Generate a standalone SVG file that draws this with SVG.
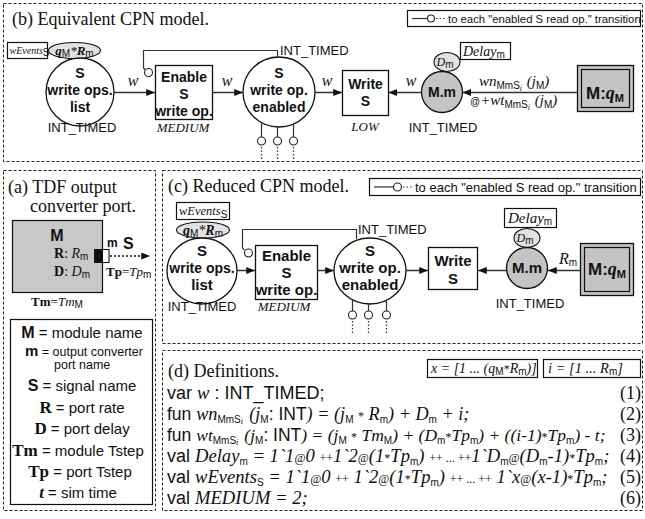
<svg xmlns="http://www.w3.org/2000/svg" width="645" height="519" viewBox="0 0 645 519">
<style>
.bd{fill:none;stroke:#222;stroke-width:1;stroke-dasharray:3 2}
.bx{fill:#fff;stroke:#111;stroke-width:1.2}
.nd{fill:#fff;stroke:#111;stroke-width:1.3}
.gr{fill:#c4c4c4;stroke:#111;stroke-width:1.3}
.lg{fill:#e2e2e2;stroke:#111;stroke-width:1.1}
.arc{fill:none;stroke:#333;stroke-width:1.5}
.thin{fill:none;stroke:#333;stroke-width:1.2}
.dot{fill:none;stroke:#333;stroke-width:1.2;stroke-dasharray:1.5 2}
.ic{fill:#fff;stroke:#222;stroke-width:1.1}
.ti{font-family:"Liberation Serif",serif;font-size:18px;fill:#111}
.sb{font-family:"Liberation Sans",Arial,sans-serif;font-weight:bold;font-style:normal;fill:#111}
.sn{font-family:"Liberation Sans",Arial,sans-serif;font-style:normal;fill:#111}
.it{font-family:"Liberation Serif",serif;font-style:italic;fill:#111}
.sr{font-family:"Liberation Serif",serif;font-style:normal;fill:#111}
.nl{font-family:"Liberation Sans",Arial,sans-serif;font-weight:bold;font-size:14px;text-anchor:middle;fill:#111}
.nl2{font-family:"Liberation Sans",Arial,sans-serif;font-weight:bold;font-size:15px;text-anchor:middle;fill:#111}
.ty{font-family:"Liberation Sans",Arial,sans-serif;font-size:13px;fill:#111}
.pr{font-family:"Liberation Serif",serif;font-style:italic;font-size:13px;text-anchor:middle;fill:#111}
.sub{font-family:"Liberation Sans",Arial,sans-serif;font-style:normal;font-weight:normal;font-size:10px}
.sm{font-family:"Liberation Serif",serif;font-style:normal;font-size:12px}
</style>
<defs>
<marker id="ah" viewBox="0 0 10 8" refX="10" refY="4" markerWidth="9" markerHeight="7" markerUnits="userSpaceOnUse" orient="auto"><path d="M0,0 L10,4 L0,8 z" fill="#111"/></marker>
</defs>

<!-- panel borders -->
<g id="borders">
<rect class="bd" x="3.5" y="3.5" width="639" height="158"/>
<rect class="bd" x="3.5" y="170.5" width="152" height="340"/>
<rect class="bd" x="162.5" y="170.5" width="480" height="173"/>
<rect class="bd" x="162.5" y="350.5" width="480" height="160"/>
</g>

<!-- titles -->
<text class="ti" x="12" y="25">(b) Equivalent CPN model.</text>
<text class="ti" x="8" y="193">(a) TDF output</text>
<text class="ti" x="30" y="212">converter port.</text>
<text class="ti" x="168" y="192">(c) Reduced CPN model.</text>
<text class="ti" x="168" y="377">(d) Definitions.</text>

<!-- ===== (b) Equivalent CPN model ===== -->
<g id="b-legend">
<rect class="bx" x="407.5" y="10.5" width="233" height="16"/>
<line class="thin" x1="412" y1="18.5" x2="427" y2="18.5"/>
<circle class="ic" cx="431" cy="18.5" r="3.5"/>
<line class="dot" x1="436" y1="18.5" x2="446" y2="18.5"/>
<text class="sn" x="448" y="22.5" font-size="11.3">to each "enabled S read op." transition</text>
</g>

<g id="b-list">
<rect class="bx" x="7.5" y="42.5" width="40" height="16"/>
<text class="it" x="9.5" y="54" font-size="10">wEvents<tspan class="sub" font-size="7.5" dy="2">S</tspan></text>
<ellipse class="lg" cx="74.5" cy="50.5" rx="26" ry="8"/>
<text class="it" x="74.5" y="55" font-size="13" font-weight="bold" text-anchor="middle">q<tspan class="sub" font-size="8" dy="2">M</tspan><tspan dy="-2" font-weight="normal">*</tspan>R<tspan class="sub" font-size="8" dy="2">m</tspan></text>
<ellipse class="nd" cx="80" cy="92" rx="34" ry="34"/>
<text class="nl" x="80" y="78">S</text>
<text class="nl" x="80" y="95">write ops.</text>
<text class="nl" x="80" y="112">list</text>
<text class="ty" x="82" y="132" text-anchor="middle">INT_TIMED</text>
</g>

<g id="b-enable">
<rect class="nd" x="155.5" y="65.5" width="57" height="54"/>
<text class="nl" x="184" y="82">Enable</text>
<text class="nl" x="184" y="99">S</text>
<text class="nl" x="184" y="116">write op.</text>
<text class="pr" x="183" y="132">MEDIUM</text>
</g>

<g id="b-enabled">
<ellipse class="nd" cx="279" cy="92" rx="36" ry="35"/>
<text class="nl" x="279" y="78">S</text>
<text class="nl" x="279" y="95">write op.</text>
<text class="nl" x="279" y="112">enabled</text>
<text class="ty" x="280" y="55">INT_TIMED</text>
</g>

<g id="b-write">
<rect class="nd" x="342.5" y="70.5" width="46" height="45"/>
<text class="nl" x="365.5" y="89">Write</text>
<text class="nl" x="365.5" y="106">S</text>
<text class="pr" x="365" y="131">LOW</text>
</g>

<g id="b-mm">
<rect class="bx" x="460.5" y="42.5" width="50" height="17"/>
<text class="it" x="463" y="56" font-size="14">Delay<tspan class="sub" font-size="9" dy="2">m</tspan></text>
<ellipse class="lg" cx="447" cy="62" rx="13" ry="9.5"/>
<text class="it" x="445" y="66" font-size="12" text-anchor="middle">D<tspan class="sub" font-size="7.5" dy="2">m</tspan></text>
<circle class="gr" cx="442" cy="92" r="20.5"/>
<text class="nl" x="442" y="97">M.m</text>
<text class="ty" x="443" y="132" text-anchor="middle">INT_TIMED</text>
</g>

<g id="b-mq">
<rect class="gr" x="577.5" y="65.5" width="56" height="46"/>
<rect fill="none" stroke="#111" stroke-width="1.2" x="581.5" y="69.5" width="48" height="38"/>
<text x="605" y="99" text-anchor="middle"><tspan class="sb" font-size="17">M:</tspan><tspan class="it" font-weight="bold" font-size="18">q</tspan><tspan class="sb" font-size="11" dy="3">M</tspan></text>
</g>

<g id="b-connectors">
<line class="arc" x1="114" y1="92.5" x2="155" y2="92.5" marker-end="url(#ah)"/>
<line class="arc" x1="212" y1="92.5" x2="243" y2="92.5" marker-end="url(#ah)"/>
<line class="arc" x1="315" y1="92.5" x2="342" y2="92.5" marker-end="url(#ah)"/>
<line class="arc" x1="421" y1="92.5" x2="388.5" y2="92.5" marker-end="url(#ah)"/>
<line class="arc" x1="577" y1="92.5" x2="462.5" y2="92.5" marker-end="url(#ah)"/>
<path class="thin" d="M277.5,57 V50.5 H143.5 V68 L145.5,70"/>
<circle class="ic" cx="148.5" cy="72.5" r="4"/>
<path class="thin" d="M261.5,122 V137 M277.5,127 V137 M293.5,124 V137"/>
<circle class="ic" cx="261.5" cy="141" r="4"/>
<circle class="ic" cx="277.5" cy="141" r="4"/>
<circle class="ic" cx="293.5" cy="141" r="4"/>
<path class="dot" d="M261.5,147 V160 M277.5,147 V160 M293.5,147 V160"/>
<text class="it" x="133" y="86" font-size="16" text-anchor="middle">w</text>
<text class="it" x="227" y="86" font-size="16" text-anchor="middle">w</text>
<text class="it" x="327" y="86" font-size="16" text-anchor="middle">w</text>
<text class="it" x="411" y="86" font-size="16" text-anchor="middle">w</text>
<text class="it" x="479" y="86" font-size="15">wn<tspan class="sub" font-size="10" dy="3">MmS</tspan><tspan font-size="8" dy="2">i</tspan><tspan dy="-5" dx="1"> (j</tspan><tspan class="sub" font-size="10" dy="3">M</tspan><tspan dy="-3">)</tspan></text>
<text class="it" x="470" y="105" font-size="15"><tspan class="sn" font-size="10">@</tspan>+wt<tspan class="sub" font-size="10" dy="3">MmS</tspan><tspan font-size="8" dy="2">i</tspan><tspan dy="-5" dx="1"> (j</tspan><tspan class="sub" font-size="10" dy="3">M</tspan><tspan dy="-3">)</tspan></text>
</g>

<!-- ===== (a) TDF output converter port ===== -->
<g id="a-module">
<rect fill="#c8c8c8" stroke="#111" stroke-width="1.2" x="12.5" y="220.5" width="90" height="72"/>
<text class="sb" x="57" y="241" font-size="16" text-anchor="middle">M</text>
<text class="sr" x="54" y="258" font-size="14"><tspan font-weight="bold">R</tspan>: <tspan class="it">R</tspan><tspan class="sub" font-size="9" dy="2">m</tspan></text>
<text class="sr" x="54" y="276" font-size="14"><tspan font-weight="bold">D</tspan>: <tspan class="it">D</tspan><tspan class="sub" font-size="9" dy="2">m</tspan></text>
<text class="sr" x="57" y="306" font-size="13" text-anchor="middle"><tspan font-weight="bold">Tm</tspan>=<tspan class="it">Tm</tspan><tspan class="sub" font-size="8.5" dy="2">M</tspan></text>
</g>
<g id="a-port">
<rect fill="#111" x="94" y="249" width="8.5" height="14"/>
<rect fill="#fff" stroke="#111" stroke-width="1.1" x="102.5" y="249.5" width="6.5" height="13"/>
<text class="sb" x="107" y="247" font-size="12">m</text>
<text class="sb" x="123" y="249" font-size="16">S</text>
<line x1="110" y1="256" x2="150" y2="256" stroke="#111" stroke-width="1.3" stroke-dasharray="2 2" marker-end="url(#ah)"/>
<text class="sr" x="106" y="276" font-size="13"><tspan font-weight="bold">Tp</tspan>=<tspan class="it">Tp</tspan><tspan class="sub" font-size="8.5" dy="2">m</tspan></text>
</g>
<g id="a-legend">
<rect class="bx" x="10.5" y="319.5" width="142" height="185"/>
<text class="sn" x="82" y="338" font-size="15" text-anchor="middle"><tspan class="sb" font-size="16">M</tspan> = module name</text>
<text class="sn" x="25" y="356" font-size="12.5"><tspan class="sb" font-size="15">m</tspan> = output converter</text>
<text class="sn" x="54" y="369" font-size="12.5">port name</text>
<text class="sn" x="82" y="391" font-size="15" text-anchor="middle"><tspan class="sb" font-size="16">S</tspan> = signal name</text>
<text class="sn" x="82" y="413" font-size="15" text-anchor="middle"><tspan class="sr" font-weight="bold" font-size="17">R</tspan> = port rate</text>
<text class="sn" x="82" y="434" font-size="15" text-anchor="middle"><tspan class="sr" font-weight="bold" font-size="17">D</tspan> = port delay</text>
<text class="sn" x="78" y="456" font-size="15" text-anchor="middle"><tspan class="sr" font-weight="bold" font-size="17">Tm</tspan> = module Tstep</text>
<text class="sn" x="80" y="477" font-size="15" text-anchor="middle"><tspan class="sr" font-weight="bold" font-size="17">Tp</tspan> = port Tstep</text>
<text class="sn" x="78" y="498" font-size="15" text-anchor="middle"><tspan class="it" font-weight="bold" font-size="17">t</tspan> = sim time</text>
</g>

<!-- ===== (c) Reduced CPN model ===== -->
<g id="c-legend">
<rect class="bx" x="369.5" y="178.5" width="271" height="17"/>
<line class="thin" x1="374" y1="187" x2="393" y2="187"/>
<circle class="ic" cx="397.5" cy="187" r="4"/>
<line class="dot" x1="403" y1="187" x2="413" y2="187"/>
<text class="sn" x="415" y="192" font-size="13">to each "enabled S read op." transition</text>
</g>

<g id="c-list">
<rect class="bx" x="176.5" y="202.5" width="53" height="17"/>
<text class="it" x="179" y="215" font-size="12.5">wEvents<tspan class="sub" font-size="9" dy="2.5">S</tspan></text>
<ellipse class="lg" cx="203" cy="230" rx="26.5" ry="8"/>
<text class="it" x="203" y="235" font-size="14" font-weight="bold" text-anchor="middle">q<tspan class="sub" font-size="9" dy="2">M</tspan><tspan dy="-2" font-weight="normal">*</tspan>R<tspan class="sub" font-size="9" dy="2">m</tspan></text>
<ellipse class="nd" cx="202" cy="271" rx="35" ry="33"/>
<text class="nl2" x="202" y="256">S</text>
<text class="nl" x="202" y="273">write ops.</text>
<text class="nl2" x="202" y="290">list</text>
<text class="ty" x="202" y="311" text-anchor="middle" font-size="14">INT_TIMED</text>
</g>

<g id="c-enable">
<rect class="nd" x="255.5" y="245.5" width="62" height="54"/>
<text class="nl2" x="286.5" y="261">Enable</text>
<text class="nl2" x="286.5" y="278">S</text>
<text class="nl2" x="286.5" y="295">write op.</text>
<text class="pr" x="284" y="311" font-size="14">MEDIUM</text>
</g>

<g id="c-enabled">
<ellipse class="nd" cx="370" cy="271" rx="36" ry="33"/>
<text class="nl2" x="370" y="256">S</text>
<text class="nl2" x="370" y="273">write op.</text>
<text class="nl2" x="370" y="290">enabled</text>
<text class="ty" x="358" y="234" font-size="14">INT_TIMED</text>
</g>

<g id="c-write">
<rect class="nd" x="428.5" y="247.5" width="49" height="42"/>
<text class="nl2" x="453" y="266">Write</text>
<text class="nl2" x="453" y="284">S</text>
</g>

<g id="c-mm">
<rect class="bx" x="504.5" y="208.5" width="52" height="19"/>
<text class="it" x="508" y="223" font-size="15">Delay<tspan class="sub" font-size="9.5" dy="2">m</tspan></text>
<ellipse class="lg" cx="527" cy="238" rx="13" ry="9.5"/>
<text class="it" x="525" y="242" font-size="12" text-anchor="middle">D<tspan class="sub" font-size="7.5" dy="2">m</tspan></text>
<circle class="gr" cx="527" cy="268" r="20.5"/>
<text class="nl2" x="527" y="273">M.m</text>
<text class="ty" x="530" y="308" text-anchor="middle" font-size="14">INT_TIMED</text>
</g>

<g id="c-mq">
<rect class="gr" x="580.5" y="243.5" width="53" height="52"/>
<rect fill="none" stroke="#111" stroke-width="1.2" x="584.5" y="247.5" width="45" height="44"/>
<text x="607" y="275" text-anchor="middle"><tspan class="sb" font-size="17">M:</tspan><tspan class="it" font-weight="bold" font-size="18">q</tspan><tspan class="sb" font-size="11" dy="3">M</tspan></text>
</g>

<g id="c-connectors">
<line class="arc" x1="237" y1="270.5" x2="255" y2="270.5" marker-end="url(#ah)"/>
<line class="arc" x1="317" y1="270.5" x2="334" y2="270.5" marker-end="url(#ah)"/>
<line class="arc" x1="406" y1="270.5" x2="428" y2="270.5" marker-end="url(#ah)"/>
<line class="arc" x1="506" y1="270.5" x2="478" y2="270.5" marker-end="url(#ah)"/>
<line class="arc" x1="580" y1="270.5" x2="548" y2="270.5" marker-end="url(#ah)"/>
<path class="thin" d="M356.5,239 V229.5 H242.5 V248 L244.5,250"/>
<circle class="ic" cx="248.5" cy="253" r="4"/>
<path class="thin" d="M352.5,299 V311 M368.5,304 V311 M386.5,301 V311"/>
<circle class="ic" cx="352.5" cy="315" r="4"/>
<circle class="ic" cx="368.5" cy="315" r="4"/>
<circle class="ic" cx="386.5" cy="315" r="4"/>
<path class="dot" d="M352.5,321 V335 M368.5,321 V335 M386.5,321 V335"/>
<text class="it" x="559" y="264" font-size="16">R<tspan class="sub" font-size="10" dy="2">m</tspan></text>
</g>

<!-- ===== (d) Definitions ===== -->
<g id="d-defs">
<rect class="bx" x="427.5" y="359.5" width="110" height="18"/>
<text class="it" x="431" y="373" font-size="14">x = [1 ... (q<tspan class="sub" font-size="9.5" dy="2">M</tspan><tspan class="sm" font-size="11" dy="-2">*</tspan>R<tspan class="sub" font-size="9.5" dy="2">m</tspan><tspan dy="-2">)]</tspan></text>
<rect class="bx" x="543.5" y="359.5" width="97" height="18"/>
<text class="it" x="548" y="373" font-size="14.5">i = [1 ... R<tspan class="sub" font-size="10" dy="2">m</tspan><tspan dy="-2">]</tspan></text>

<text x="167" y="399" class="it" font-size="18.6"><tspan class="sn" font-size="18">var </tspan>w<tspan class="sn" font-size="18"> : INT_TIMED;</tspan></text>
<text x="167" y="420" class="it" font-size="18.2"><tspan class="sn" font-size="17.5">fun </tspan>wn<tspan class="sub" font-size="11" dy="3">MmS</tspan><tspan font-size="8.5" dy="1">i</tspan><tspan dy="-4" dx="1.5"> (j</tspan><tspan class="sub" font-size="11" dy="3">M</tspan><tspan class="sn" font-size="17.5" dy="-3">: INT</tspan>) = (j<tspan class="sub" font-size="11" dy="3">M</tspan><tspan dy="-3"> </tspan><tspan class="sm">*</tspan> R<tspan class="sub" font-size="11" dy="3">m</tspan><tspan dy="-3">) + D</tspan><tspan class="sub" font-size="11" dy="3">m</tspan><tspan dy="-3"> + i;</tspan></text>
<text x="167" y="441" class="it" font-size="17.5"><tspan class="sn" font-size="17.5">fun </tspan>wt<tspan class="sub" font-size="11" dy="3">MmS</tspan><tspan font-size="8.5" dy="1">i</tspan><tspan dy="-4" dx="1.5"> (j</tspan><tspan class="sub" font-size="11" dy="3">M</tspan><tspan class="sn" font-size="17.5" dy="-3">: INT</tspan>) = (j<tspan class="sub" font-size="11" dy="3">M</tspan><tspan dy="-3"> </tspan><tspan class="sm">*</tspan> Tm<tspan class="sub" font-size="11" dy="3">M</tspan><tspan dy="-3">) + (D</tspan><tspan class="sub" font-size="11" dy="3">m</tspan><tspan class="sm" dy="-3">*</tspan>Tp<tspan class="sub" font-size="11" dy="3">m</tspan><tspan dy="-3">) + ((i-1)</tspan><tspan class="sm">*</tspan>Tp<tspan class="sub" font-size="11" dy="3">m</tspan><tspan dy="-3">) - t;</tspan></text>
<text x="167" y="462" class="it" font-size="18.6"><tspan class="sn" font-size="18">val </tspan>Delay<tspan class="sub" font-size="11" dy="3">m</tspan><tspan dy="-3"> = 1`1</tspan><tspan class="sm">@</tspan>0 <tspan class="sm">++</tspan>1`2<tspan class="sm">@</tspan>(1<tspan class="sm">*</tspan>Tp<tspan class="sub" font-size="11" dy="3">m</tspan><tspan dy="-3">) </tspan><tspan class="sm">++ ... ++</tspan>1`D<tspan class="sub" font-size="11" dy="3">m</tspan><tspan class="sm" dy="-3">@</tspan>(D<tspan class="sub" font-size="11" dy="3">m</tspan><tspan dy="-3">-1)</tspan><tspan class="sm">*</tspan>Tp<tspan class="sub" font-size="11" dy="3">m</tspan><tspan dy="-3">;</tspan></text>
<text x="167" y="483" class="it" font-size="18.6"><tspan class="sn" font-size="18">val </tspan>wEvents<tspan class="sub" font-size="11" dy="3">S</tspan><tspan dy="-3"> = 1`1</tspan><tspan class="sm">@</tspan>0 <tspan class="sm">++</tspan> 1`2<tspan class="sm">@</tspan>(1<tspan class="sm">*</tspan>Tp<tspan class="sub" font-size="11" dy="3">m</tspan><tspan dy="-3">) </tspan><tspan class="sm">++ ... ++</tspan> 1`x<tspan class="sm">@</tspan>(x-1)<tspan class="sm">*</tspan>Tp<tspan class="sub" font-size="11" dy="3">m</tspan><tspan dy="-3">;</tspan></text>
<text x="167" y="504" class="it" font-size="18.6"><tspan class="sn" font-size="18">val </tspan>MEDIUM = 2;</text>

<text class="sr" font-size="18" text-anchor="end" x="641" y="399">(1)</text>
<text class="sr" font-size="18" text-anchor="end" x="641" y="420">(2)</text>
<text class="sr" font-size="18" text-anchor="end" x="641" y="441">(3)</text>
<text class="sr" font-size="18" text-anchor="end" x="641" y="462">(4)</text>
<text class="sr" font-size="18" text-anchor="end" x="641" y="483">(5)</text>
<text class="sr" font-size="18" text-anchor="end" x="641" y="504">(6)</text>
</g>
</svg>
